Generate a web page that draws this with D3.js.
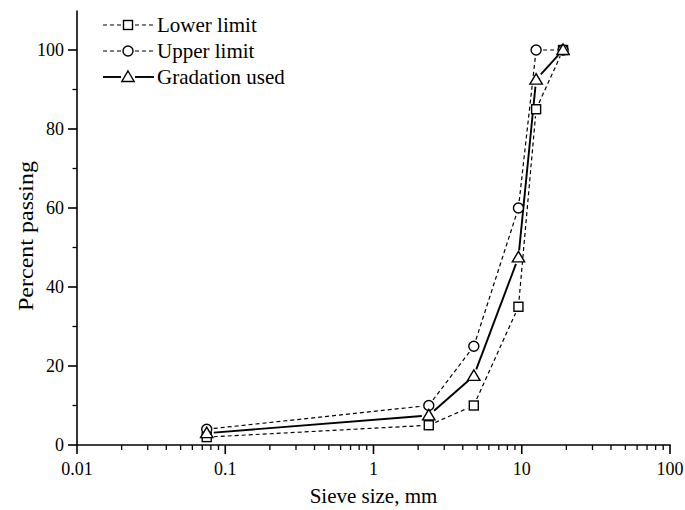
<!DOCTYPE html>
<html>
<head>
<meta charset="utf-8">
<script src="https://cdn.jsdelivr.net/npm/d3@7"></script>
<style>
  body { margin: 0; background: #fff; }
</style>
</head>
<body>
<div id="chart"></div>
<script>
'use strict';
// sieve sizes in mm
var sieveSizes = [0.075, 2.36, 4.75, 9.5, 12.5, 19];
var lowerLimit = [2, 5, 10, 35, 85, 100];
var upperLimit = [4, 10, 25, 60, 100, 100];
var gradationUsed = [3, 7.5, 17.5, 47.5, 92.5, 100];
var xTickValues = [0.01, 0.1, 1, 10, 100];
var yTickValues = [0, 20, 40, 60, 80, 100];

var series = [
    {name: "Lower limit", values: lowerLimit, shape: "square", dashed: true},
    {name: "Upper limit", values: upperLimit, shape: "circle", dashed: true},
    {name: "Gradation used", values: gradationUsed, shape: "triangle", dashed: false}
];

var FONT = "'Liberation Serif', 'Times New Roman', serif";
var width = 685, height = 510;

var svg = d3.select("#chart").append("svg")
    .attr("width", width)
    .attr("height", height)
    .attr("font-family", FONT);

var x = d3.scaleLog()
    .domain([0.01, 100])
    .range([77, 670]);
var y = d3.scaleLinear()
    .domain([0, 110])
    .range([445, 445 - 110 * 3.95]);

// minor x ticks: 2..9 in each decade
var xMinor = [];
for (var d = 0.01; d < 100; d *= 10) {
    for (var k = 2; k <= 9; k++) xMinor.push(+(d * k).toPrecision(3));
}
var yMinor = [10, 30, 50, 70, 90];

// x axis
var xAxis = svg.append("g")
    .attr("transform", "translate(0," + y(0) + ")");
xAxis.append("line")
    .attr("x1", x(0.01) - 0.75).attr("x2", x(100) + 0.75)
    .attr("stroke", "#000").attr("stroke-width", 1.6);
xAxis.selectAll(".major").data(xTickValues).enter().append("line")
    .attr("x1", function (d) { return x(d); })
    .attr("x2", function (d) { return x(d); })
    .attr("y1", 0).attr("y2", 9)
    .attr("stroke", "#000").attr("stroke-width", 1.6);
xAxis.selectAll(".minor").data(xMinor).enter().append("line")
    .attr("x1", function (d) { return x(d); })
    .attr("x2", function (d) { return x(d); })
    .attr("y1", 0).attr("y2", 5)
    .attr("stroke", "#000").attr("stroke-width", 1.3);
xAxis.selectAll(".lbl").data(xTickValues).enter().append("text")
    .attr("x", function (d) { return x(d); })
    .attr("y", 30)
    .attr("text-anchor", "middle")
    .attr("font-family", FONT)
    .attr("font-size", "18px")
    .text(function (d) { return d; });

// y axis
var yAxis = svg.append("g")
    .attr("transform", "translate(" + x(0.01) + ",0)");
yAxis.append("line")
    .attr("y1", y(0)).attr("y2", y(110))
    .attr("stroke", "#000").attr("stroke-width", 1.6);
yAxis.selectAll(".major").data(yTickValues).enter().append("line")
    .attr("y1", function (d) { return y(d); })
    .attr("y2", function (d) { return y(d); })
    .attr("x1", 0).attr("x2", -9)
    .attr("stroke", "#000").attr("stroke-width", 1.6);
yAxis.selectAll(".minor").data(yMinor).enter().append("line")
    .attr("y1", function (d) { return y(d); })
    .attr("y2", function (d) { return y(d); })
    .attr("x1", 0).attr("x2", -4.5)
    .attr("stroke", "#000").attr("stroke-width", 1.3);
yAxis.selectAll(".lbl").data(yTickValues).enter().append("text")
    .attr("x", -13)
    .attr("y", function (d) { return y(d); })
    .attr("dy", "0.34em")
    .attr("text-anchor", "end")
    .attr("font-family", FONT)
    .attr("font-size", "18px")
    .text(function (d) { return d; });

// axis titles
svg.append("text")
    .attr("x", (x(0.01) + x(100)) / 2)
    .attr("y", 503)
    .attr("text-anchor", "middle")
    .attr("font-family", FONT)
    .attr("font-size", "21px")
    .text("Sieve size, mm");
svg.append("text")
    .attr("transform", "translate(33,236) rotate(-90)")
    .attr("text-anchor", "middle")
    .attr("font-family", FONT)
    .attr("font-size", "21px")
    .attr("textLength", 150)
    .attr("lengthAdjust", "spacingAndGlyphs")
    .text("Percent passing");

// draws a marker shape centred at cx, cy
function drawMarker(g, shape, cx, cy) {
    if (shape === "square") {
        g.append("rect")
            .attr("x", cx - 4.5).attr("y", cy - 4.5)
            .attr("width", 9).attr("height", 9)
            .attr("fill", "#fff").attr("stroke", "#000").attr("stroke-width", 1.4);
    } else if (shape === "circle") {
        g.append("circle")
            .attr("cx", cx).attr("cy", cy).attr("r", 5)
            .attr("fill", "#fff").attr("stroke", "#000").attr("stroke-width", 1.4);
    } else {
        g.append("path")
            .attr("d", "M" + cx + "," + (cy - 6) + "L" + (cx + 6.2) + "," + (cy + 4.5) +
                "L" + (cx - 6.2) + "," + (cy + 4.5) + "Z")
            .attr("fill", "#fff").attr("stroke", "#000").attr("stroke-width", 1.4);
    }
}

// line segments shortened so they stop short of the markers
var gap = 7;
series.forEach(function (s) {
    var g = svg.append("g");
    var pts = sieveSizes.map(function (v, i) { return [x(v), y(s.values[i])]; });
    for (var i = 0; i < pts.length - 1; i++) {
        var a = pts[i], b = pts[i + 1];
        var dx = b[0] - a[0], dy = b[1] - a[1];
        var len = Math.sqrt(dx * dx + dy * dy);
        if (len <= 2 * gap) continue;
        var ux = dx / len, uy = dy / len;
        g.append("line")
            .attr("x1", a[0] + ux * gap).attr("y1", a[1] + uy * gap)
            .attr("x2", b[0] - ux * gap).attr("y2", b[1] - uy * gap)
            .attr("stroke", "#000")
            .attr("stroke-width", s.dashed ? 1.2 : 1.9)
            .attr("stroke-dasharray", s.dashed ? "4,3" : null);
    }
    s.pts = pts;
});
series.forEach(function (s) {
    var g = svg.append("g");
    s.pts.forEach(function (p) { drawMarker(g, s.shape, p[0], p[1]); });
});

// legend
var legend = svg.append("g").attr("transform", "translate(103,0)");
var legendRows = [25, 51, 77];
series.forEach(function (s, i) {
    var ly = legendRows[i];
    var row = legend.append("g");
    [[0, 18], [32, 51]].forEach(function (seg) {
        row.append("line")
            .attr("x1", seg[0]).attr("x2", seg[1]).attr("y1", ly).attr("y2", ly)
            .attr("stroke", "#000")
            .attr("stroke-width", s.dashed ? 1.2 : 1.9)
            .attr("stroke-dasharray", s.dashed ? "4,3" : null);
    });
    drawMarker(row, s.shape, 25, ly);
    row.append("text")
        .attr("x", 54).attr("y", ly)
        .attr("dy", "0.33em")
        .attr("font-family", FONT)
        .attr("font-size", "21px")
        .text(s.name);
});
</script>
</body>
</html>
